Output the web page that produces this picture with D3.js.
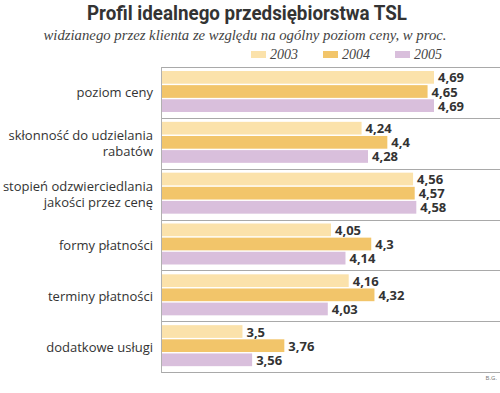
<!DOCTYPE html>
<html>
<head>
<meta charset="utf-8">
<script src="https://cdn.jsdelivr.net/npm/d3@7"></script>
<style>
  body { margin: 0; background: #fff; }
</style>
</head>
<body>
<svg id="chart"></svg>
<script>
const width = 500, height = 393;
const svg = d3.select("#chart").attr("width", width).attr("height", height);

// data
const categories = [
  ["poziom ceny"],
  ["skłonność do udzielania", "rabatów"],
  ["stopień odzwierciedlania", "jakości przez cenę"],
  ["formy płatności"],
  ["terminy płatności"],
  ["dodatkowe usługi"]
];
const years = ["2003", "2004", "2005"];
const v2003 = [4.69, 4.24, 4.56, 4.05, 4.16, 3.5];
const v2004 = [4.65, 4.4, 4.57, 4.3, 4.32, 3.76];
const v2005 = [4.69, 4.28, 4.58, 4.14, 4.03, 3.56];
const series = [v2003, v2004, v2005];
const colors = ["#fbe2ab", "#f2c56a", "#d9bfdc"];

const plotLeft = 161, plotRight = 500, plotTop = 67, plotBottom = 372;

const x = d3.scaleLinear().domain([3, 5.1]).range([plotLeft + 1, plotRight]);
const y = d3.scaleBand().domain(d3.range(categories.length)).range([plotTop, plotBottom]);
const yInner = d3.scaleBand().domain(years).range([4, 45]).paddingInner(0.1);

// title + subtitle
svg.append("text")
  .attr("x", 247).attr("y", 20)
  .attr("text-anchor", "middle")
  .attr("font-family", "Roboto, sans-serif")
  .attr("font-weight", "bold")
  .attr("font-size", 20)
  .attr("fill", "#333")
  .attr("textLength", 320).attr("lengthAdjust", "spacingAndGlyphs")
  .text("Profil idealnego przedsiębiorstwa TSL");

svg.append("text")
  .attr("x", 245).attr("y", 40)
  .attr("text-anchor", "middle")
  .attr("font-family", "'Liberation Serif', serif")
  .attr("font-style", "italic")
  .attr("font-size", 14.5)
  .attr("fill", "#444")
  .attr("textLength", 403).attr("lengthAdjust", "spacingAndGlyphs")
  .text("widzianego przez klienta ze względu na ogólny poziom ceny, w proc.");

// legend
const legend = svg.append("g").selectAll("g")
  .data(years)
  .enter().append("g")
  .attr("transform", (d, i) => `translate(${251 + i * 72},51)`);
legend.append("rect")
  .attr("width", 15).attr("height", 7)
  .attr("fill", (d, i) => colors[i]);
legend.append("text")
  .attr("x", 19).attr("y", 8)
  .attr("font-family", "'Liberation Serif', serif")
  .attr("font-style", "italic")
  .attr("font-size", 14)
  .attr("fill", "#444")
  .text(d => d);

// group separators
svg.append("g").selectAll("line")
  .data(d3.range(categories.length + 1))
  .enter().append("line")
  .attr("x1", plotLeft).attr("x2", plotRight)
  .attr("y1", d => Math.round(plotTop + d * y.step()) + 0.5)
  .attr("y2", d => Math.round(plotTop + d * y.step()) + 0.5)
  .attr("stroke", "#a9a9a9");

svg.append("line")
  .attr("x1", plotLeft + 0.5).attr("x2", plotLeft + 0.5)
  .attr("y1", plotTop).attr("y2", plotBottom + 1)
  .attr("stroke", "#b0b0b0");

// bars
const groups = svg.append("g").selectAll("g")
  .data(categories)
  .enter().append("g")
  .attr("transform", (d, i) => `translate(0,${y(i)})`);

groups.each(function(cat, ci) {
  const g = d3.select(this);
  years.forEach((yr, si) => {
    const val = series[si][ci];
    g.append("rect")
      .attr("x", x(3))
      .attr("y", yInner(yr))
      .attr("width", x(val) - x(3))
      .attr("height", yInner.bandwidth())
      .attr("fill", colors[si]);
    g.append("text")
      .attr("x", x(val) + 4)
      .attr("y", yInner(yr) + yInner.bandwidth() / 2 + 5)
      .attr("font-family", "'Open Sans', sans-serif")
      .attr("font-weight", "bold")
      .attr("font-size", 13)
      .attr("fill", "#333")
      .text(String(val).replace(".", ","));
  });

  // category label
  const lab = g.append("text")
    .attr("text-anchor", "end")
    .attr("font-family", "'Open Sans', sans-serif")
    .attr("font-size", 13)
    .attr("fill", "#333");
  cat.forEach((line, li) => {
    lab.append("tspan")
      .attr("x", 153)
      .attr("y", y.bandwidth() / 2 + 5 + (li - (cat.length - 1) / 2) * 16)
      .text(line);
  });
});

svg.append("text")
  .attr("x", 497).attr("y", 380)
  .attr("text-anchor", "end")
  .attr("font-family", "'Open Sans', sans-serif")
  .attr("font-size", 6)
  .attr("fill", "#777")
  .text("B.G.");
</script>
</body>
</html>
